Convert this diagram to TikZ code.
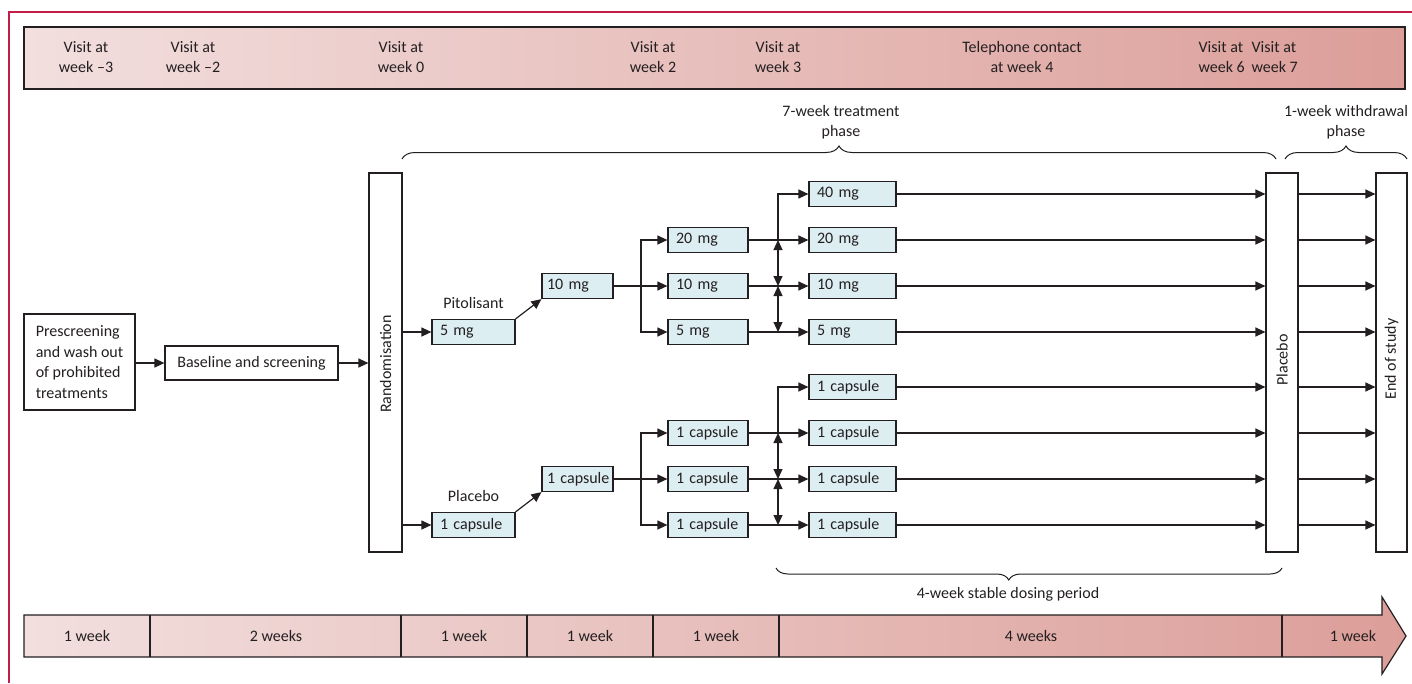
\documentclass[tikz,border=0pt]{standalone}
\usepackage{fontspec}
\setmainfont{Carlito}
\usetikzlibrary{arrows.meta,decorations.pathreplacing,calc}
\definecolor{framered}{RGB}{196,30,72}
\definecolor{barL}{RGB}{242,223,222}
\definecolor{barR}{RGB}{220,158,153}
\definecolor{boxfill}{RGB}{221,238,243}
\definecolor{ink}{RGB}{35,31,32}
\tikzset{
  arr/.style={-{Triangle[length=10pt,width=9pt]}},
  arrtwo/.style={{Triangle[length=10pt,width=9pt]}-{Triangle[length=10pt,width=9pt]}},
  dbox/.style={draw=ink, fill=boxfill, minimum height=25, inner xsep=0, inner ysep=0,
    text width=#1, align=left, execute at begin node={\hspace*{8pt}}},
  nbox/.style={draw=ink, fill=boxfill, minimum height=25, inner xsep=0, inner ysep=0,
    text width=#1, align=left, execute at begin node={\hspace*{5pt}}},
  tallbox/.style={draw=ink, fill=white, minimum width=#1, minimum height=379, inner sep=0},
  plainbox/.style={draw=ink, fill=white, inner sep=0},
  toptxt/.style={align=center, inner sep=0},
  brc/.style={decorate, decoration={brace, amplitude=#1}, line width=1pt},
  lbl/.style={inner sep=0, align=center},
}
\begin{document}
\begin{tikzpicture}[x=1pt,y=-1pt,font=\fontsize{16}{20.5}\selectfont,line width=1.2pt,color=ink,text=ink]
\useasboundingbox (0,0) rectangle (1412,683);
% red frame
\draw[framered,line width=1.2pt] (9,683) -- (9,12) -- (1412,12);
% top bar
\path[draw=ink,left color=barL,right color=barR] (24,27) rectangle (1405,89);
\node[toptxt] (t1) at (86,57) {Visit at\\week –3};
\node[toptxt] (t2) at (193,57) {Visit at\\week –2};
\node[toptxt] (t3) at (401,57) {Visit at\\week 0};
\node[toptxt] (t4) at (653,57) {Visit at\\week 2};
\node[toptxt] (t5) at (778,57) {Visit at\\week 3};
\node[toptxt] (t6) at (1022,57) {Telephone contact\\at week 4};
\node[toptxt,align=left,anchor=west] (t7) at (1198,57) {Visit at\\week 6};
\node[toptxt,align=left,anchor=west] (t8) at (1251,57) {Visit at\\week 7};
% bottom bar
\path[draw=ink,left color=barL,right color=barR] (24,615) -- (1382,615) -- (1382,597) -- (1406,636) -- (1382,674) -- (1382,657) -- (24,657) -- cycle;
\foreach \xx in {150,401,527,653,779,1282} \draw (\xx,615) -- (\xx,657);
\node[lbl] (w1) at (87,636) {1 week};
\node[lbl] (w2) at (276,636) {2 weeks};
\node[lbl] (w3) at (464,636) {1 week};
\node[lbl] (w4) at (590,636) {1 week};
\node[lbl] (w5) at (716,636) {1 week};
\node[lbl] (w6) at (1031,636) {4 weeks};
\node[lbl] (w7) at (1353,636) {1 week};
% braces
\draw[brc=13] (402,159) -- (1276,159);
\node[lbl] (ph1) at (841,122) {7-week treatment\\phase};
\draw[brc=13] (1285,159) -- (1407,159);
\node[lbl] (ph2) at (1346,122) {1-week withdrawal\\phase};
\draw[brc=12,decoration={aspect=0.54}] (1282,568) -- (776,568);
\node[lbl] (ph3) at (1008,594) {4-week stable dosing period};
% left boxes
\node[plainbox,minimum width=111,minimum height=96,align=left] (pre) at (79.5,362) {Prescreening\\and wash out\\of prohibited\\treatments};
\node[plainbox,minimum width=173,minimum height=34] (base) at (251.5,363) {Baseline and screening};
\node[tallbox=33] (rand) at (385.5,362.5) {};
\node[rotate=90,inner sep=0] (randlab) at (385.5,364) {Randomisation};
\node[tallbox=32] (plac) at (1282,362.5) {};
\node[rotate=90,inner sep=0] (placlab) at (1282,360) {Placebo};
\node[tallbox=31] (eos) at (1391.5,362.5) {};
\node[rotate=90,inner sep=0] (eoslab) at (1391.5,359) {End of study};
\draw[arr] (pre.east |- base.west) -- (base.west);
\draw[arr] (base.east) -- (base.east -| rand.west);
% pitolisant branch
\node[dbox=83] (p1) at (473.5,332) {5 mg};
\node[lbl] (plab) at (473.5,303) {Pitolisant};
\node[nbox=71] (p2) at (577.5,286) {10 mg};
\node[dbox=80] (a1) at (708,240) {20 mg};
\node[dbox=80] (a2) at (708,286) {10 mg};
\node[dbox=80] (a3) at (708,332) {5 mg};
\node[dbox=87] (b1) at (852.5,194) {40 mg};
\node[dbox=87] (b2) at (852.5,240) {20 mg};
\node[dbox=87] (b3) at (852.5,286) {10 mg};
\node[dbox=87] (b4) at (852.5,332) {5 mg};
% placebo branch
\node[dbox=83] (q1) at (473.5,525) {1 capsule};
\node[lbl] (qlab) at (473.5,496) {Placebo};
\node[nbox=71] (q2) at (577.5,479) {1 capsule};
\node[dbox=80] (c1) at (708,433) {1 capsule};
\node[dbox=80] (c2) at (708,479) {1 capsule};
\node[dbox=80] (c3) at (708,525) {1 capsule};
\node[dbox=87] (d1) at (852.5,387) {1 capsule};
\node[dbox=87] (d2) at (852.5,433) {1 capsule};
\node[dbox=87] (d3) at (852.5,479) {1 capsule};
\node[dbox=87] (d4) at (852.5,525) {1 capsule};
\coordinate (sx) at (641,0);
\coordinate (vx) at (778,0);
% pitolisant connectors
\draw[arr] (rand.east |- p1.west) -- (p1.west);
\draw[arr] (p1.north east) -- (p2.south west);
\draw[arr] (p2.east) -- (a2.west);
\draw[arr] (sx |- p2.east) |- (a1.west);
\draw[arr] (sx |- p2.east) |- (a3.west);
\draw[arr] (a1.east) -- (b2.west);
\draw[arr] (a2.east) -- (b3.west);
\draw[arr] (a3.east) -- (b4.west);
\draw[arr] (vx |- a1.east) |- (b1.west);
\draw[arrtwo] (vx |- a1.east) -- (vx |- a2.east);
\draw[arrtwo] (vx |- a2.east) -- (vx |- a3.east);
% placebo connectors
\draw[arr] (rand.east |- q1.west) -- (q1.west);
\draw[arr] (q1.north east) -- (q2.south west);
\draw[arr] (q2.east) -- (c2.west);
\draw[arr] (sx |- q2.east) |- (c1.west);
\draw[arr] (sx |- q2.east) |- (c3.west);
\draw[arr] (c1.east) -- (d2.west);
\draw[arr] (c2.east) -- (d3.west);
\draw[arr] (c3.east) -- (d4.west);
\draw[arr] (vx |- c1.east) |- (d1.west);
\draw[arrtwo] (vx |- c1.east) -- (vx |- c2.east);
\draw[arrtwo] (vx |- c2.east) -- (vx |- c3.east);
% to placebo and end of study
\foreach \n in {b1,b2,b3,b4,d1,d2,d3,d4} {
  \draw[arr] (\n.east) -- (\n.east -| plac.west);
  \draw[arr] (plac.east |- \n.east) -- (eos.west |- \n.east);
}
\end{tikzpicture}
\end{document}
